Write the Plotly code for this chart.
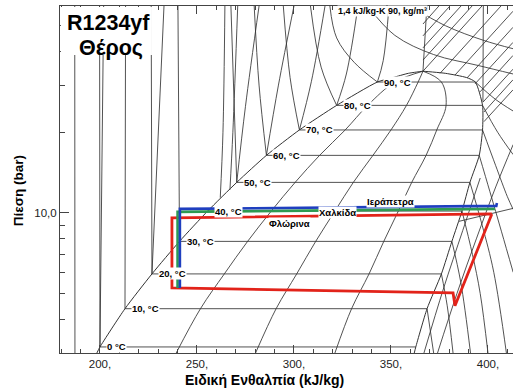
import plotly.graph_objects as go
import math

# ---------------- data ----------------
# saturation dome (T in C, P in bar, h in kJ/kg)
T_SAT = [-1.2, 0, 10, 20, 30, 40, 50, 60, 70, 80, 90, 92, 94, 94.7]
P_SAT = [3.0, 3.16, 4.39, 5.92, 7.83, 10.16, 13.0, 16.4, 20.4, 25.2, 30.8, 32.0, 33.2, 33.8]
H_LIQ = [198.4, 200.0, 212.9, 226.8, 241.0, 255.5, 270.5, 285.8, 302.8, 322.0, 343.0, 351.0, 359.0, 366.5]
H_VAP = [362.0, 362.8, 368.6, 376.0, 381.4, 386.6, 390.7, 395.5, 397.2, 397.2, 393.5, 389.0, 378.0, 366.5]

# labelled isotherms inside the dome
ISO_T = [0, 10, 20, 30, 40, 50, 60, 70, 80, 90]
ISO_LABELS = ["0 °C", "10, °C", "20, °C", "30, °C", "40, °C", "50, °C", "60, °C", "70, °C", "80, °C", "90, °C"]

# liquid-region isotherms: (h, P) polylines
LIQ_ISO = [
    [(187.1, 3.0), (187.0, 59.2)],
    [(200.0, 3.16), (199.8, 59.2)],
    [(212.9, 4.39), (213.2, 59.2)],
    [(226.8, 5.92), (226.4, 59.2)],
    [(241.0, 7.83), (240.2, 59.2)],
    [(270.5, 13.0), (267.5, 59.2)],
    [(285.8, 16.4), (282.0, 30.0), (279.5, 59.2)],
    [(302.8, 20.4), (298.0, 32.0), (294.5, 59.2)],
    [(322.0, 25.2), (314.0, 35.0), (308.5, 59.2)],
    [(343.0, 30.8), (331.0, 36.5), (322.0, 45.0), (318.5, 59.2)],
]
# steeper right-leaning lines of the liquid region
LIQ_ISEN = [
    [(200.0, 3.16), (201.9, 59.2)],
    [(226.8, 5.92), (233.0, 59.2)],
    [(262.0, 11.4), (263.4, 20.0), (264.4, 59.2)],
    [(267.0, 12.2), (268.5, 20.0), (271.0, 59.2)],
    [(270.5, 13.0), (275.0, 25.0), (282.0, 59.2)],
    [(285.8, 16.4), (292.0, 30.0), (300.0, 59.2)],
    [(302.8, 20.4), (309.0, 31.0), (316.0, 59.2)],
    [(322.0, 25.2), (327.0, 33.0), (333.0, 59.2)],
    [(343.0, 30.8), (346.0, 37.0), (349.0, 59.2)],
]

# constant quality lines (h at the saturation pressures Q_P)
Q_LINES = [
    [239.3, 251.8, 264.1, 276.1, 288.3, 300.6, 313.2, 326.4, 338.0, 352.0, 366.5],
    [280.2, 290.8, 301.4, 311.2, 321.1, 330.6, 340.7, 350.0, 358.0, 364.0, 366.5],
    [321.1, 329.7, 338.7, 346.3, 353.8, 360.7, 368.1, 373.6, 378.4, 376.0, 366.5],
]
Q_P = [3.0, 4.39, 5.92, 7.83, 10.16, 13.0, 16.4, 20.4, 25.2, 30.8, 33.8]

# superheated isotherms
VAP_ISO = [
    [(368.6, 4.39), (372.0, 3.0)],
    [(376.0, 5.92), (379.0, 4.5), (382.0, 3.0)],
    [(381.4, 7.83), (386.0, 5.5), (391.0, 3.0)],
    [(386.6, 10.16), (392.0, 7.0), (396.0, 5.0), (400.0, 3.0)],
    [(390.7, 13.0), (397.0, 9.0), (403.0, 6.0), (409.5, 3.0)],
    [(395.5, 16.4), (401.0, 12.0), (407.0, 8.5), (413.0, 6.0)],
    [(397.2, 20.4), (404.0, 15.0), (410.0, 11.5), (413.0, 10.3)],
    [(397.2, 25.2), (405.0, 20.0), (413.0, 16.5)],
    [(393.5, 30.8), (404.0, 26.5), (413.0, 24.0)],
]
# supercritical isotherms
SUP_ISO = [
    [(338.0, 59.2), (352.0, 46.0), (372.0, 39.0), (395.0, 35.5), (413.0, 33.0)],
    [(360.0, 59.2), (378.0, 50.0), (398.0, 44.0), (413.0, 41.0)],
]
# vapour isentropes
VAP_ISEN = [
    [(366.5, 33.8), (368.5, 59.2)],
    [(397.4, 26.0), (397.6, 59.2)],
    [(367.0, 3.0), (377.0, 5.2), (387.0, 8.6), (396.0, 13.5)],
    [(374.0, 3.0), (384.0, 5.0), (394.0, 8.0), (404.0, 12.5), (413.0, 18.0)],
]
# vapour isochores
VAP_RHO = [
    [(366.5, 37.2), (391.8, 59.2)],
    [(366.5, 41.3), (386.1, 59.2)],
    [(366.5, 45.8), (380.4, 59.2)],
    [(366.5, 50.7), (374.7, 59.2)],
    [(366.5, 33.8), (396.9, 59.2)],
    [(375.3, 33.2), (406.7, 59.2)],
    [(383.0, 32.7), (412.9, 56.6)],
    [(389.2, 31.9), (412.9, 49.3)],
    [(393.3, 30.3), (412.9, 43.3)],
    [(395.9, 28.3), (412.9, 38.7)],
    [(397.4, 25.9), (412.9, 34.4)],
    [(397.9, 23.8), (412.9, 31.4)],
    [(397.9, 21.9), (412.9, 28.8)],
    [(385.0, 9.3), (413.0, 10.4)],
]

# refrigeration cycles
RED_H = [402.0, 237.1, 237.1, 382.0, 383.0, 402.0]
RED_P = [9.91, 9.58, 5.25, 5.03, 4.50, 9.91]
GREEN_H = [403.6, 240.0, 240.0]
GREEN_P = [10.35, 10.09, 5.25]
BLUE_H = [404.6, 404.3, 241.2, 241.2]
BLUE_P = [10.90, 10.62, 10.35, 5.25]

X_RANGE = [179.4, 412.9]
P_RANGE = [3.0, 59.2]
X_TICKS = [200, 250, 300, 350, 400]
X_TICKTEXT = ["200,", "250,", "300,", "350,", "400,"]
Y_MINOR = [3, 4, 5, 6, 7, 8, 9, 20, 30, 40, 50]

# ---------------- figure ----------------
fig = go.Figure()
LC = "#333333"
LW = 0.85


def add_polylines(lines, width=LW, color=LC, shape="linear"):
    xs, ys = [], []
    for ln in lines:
        for h, p in ln:
            xs.append(h)
            ys.append(p)
        xs.append(None)
        ys.append(None)
    fig.add_trace(go.Scatter(x=xs, y=ys, mode="lines", line=dict(color=color, width=width, shape=shape),
                             hoverinfo="skip", showlegend=False))


# dome
fig.add_trace(go.Scatter(x=H_LIQ + H_VAP[::-1], y=P_SAT + P_SAT[::-1], mode="lines",
                         line=dict(color=LC, width=1.0, shape="spline", smoothing=0.6),
                         hoverinfo="skip", showlegend=False))
# isotherms in dome
dome_lines = []
for t in ISO_T:
    i = T_SAT.index(t)
    dome_lines.append([(H_LIQ[i], P_SAT[i]), (H_VAP[i], P_SAT[i])])
add_polylines(dome_lines)
add_polylines(LIQ_ISO, shape="spline")
add_polylines(LIQ_ISEN, shape="spline")
add_polylines([list(zip(q, Q_P)) for q in Q_LINES], shape="spline")
add_polylines(VAP_ISO, shape="spline")
add_polylines(SUP_ISO, shape="spline")
add_polylines(VAP_ISEN, shape="spline")
add_polylines(VAP_RHO)

# cycles
fig.add_trace(go.Scatter(x=RED_H, y=RED_P, mode="lines", line=dict(color="#e2231a", width=2.8),
                         hoverinfo="skip", showlegend=False))
fig.add_trace(go.Scatter(x=GREEN_H, y=GREEN_P, mode="lines", line=dict(color="#2e9a52", width=2.6),
                         hoverinfo="skip", showlegend=False))
fig.add_trace(go.Scatter(x=BLUE_H, y=BLUE_P, mode="lines", line=dict(color="#1f3fbf", width=2.6),
                         hoverinfo="skip", showlegend=False))

FONT = "Liberation Sans, Arial, sans-serif"
annotations = []
for t, lab in zip(ISO_T, ISO_LABELS):
    i = T_SAT.index(t)
    annotations.append(dict(x=H_LIQ[i], y=math.log10(P_SAT[i]), xref="x", yref="y", text="<b>%s</b>" % lab,
                            showarrow=False, xanchor="left", yanchor="middle", xshift=6,
                            bgcolor="white", borderpad=0, font=dict(family=FONT, size=9.5, color="#000")))

for txt, h, p in [("Ιεράπετρα", 349.5, 10.99), ("Χαλκίδα", 322.2, 10.05), ("Φλώρινα", 297.9, 9.10)]:
    annotations.append(dict(x=h, y=math.log10(p), xref="x", yref="y", text="<b>%s</b>" % txt, showarrow=False,
                            xanchor="center", yanchor="middle", bgcolor="white", borderpad=0,
                            font=dict(family=FONT, size=9.5, color="#000")))
annotations.append(dict(x=358.5, y=math.log10(56.8), xref="x", yref="y", text="<b>90, kg/m³</b>",
                        showarrow=False, xanchor="center", yanchor="middle", bgcolor="white", borderpad=0,
                        font=dict(family=FONT, size=9, color="#000")))
annotations.append(dict(x=335.0, y=math.log10(56.8), xref="x", yref="y", text="<b>1,4 kJ/kg-K</b>",
                        showarrow=False, xanchor="center", yanchor="middle", bgcolor="white", borderpad=0,
                        font=dict(family=FONT, size=9, color="#000")))

annotations.append(dict(x=0.106, y=0.952, xref="paper", yref="paper", text="<b>R1234yf</b>", showarrow=False,
                        xanchor="center", yanchor="middle", font=dict(family=FONT, size=21.5, color="#000")))
annotations.append(dict(x=0.113, y=0.880, xref="paper", yref="paper", text="<b>Θέρος</b>", showarrow=False,
                        xanchor="center", yanchor="middle", font=dict(family=FONT, size=21.5, color="#000")))
annotations.append(dict(x=0.452, y=-0.078, xref="paper", yref="paper", text="<b>Ειδική Ενθαλπία (kJ/kg)</b>",
                        showarrow=False, xanchor="center", yanchor="middle",
                        font=dict(family=FONT, size=14, color="#000")))
annotations.append(dict(x=-0.090, y=0.467, xref="paper", yref="paper", text="<b>Πίεση (bar)</b>",
                        showarrow=False, xanchor="center", yanchor="middle", textangle=-90,
                        font=dict(family=FONT, size=13.5, color="#000")))

shapes = [dict(type="rect", xref="paper", yref="paper", x0=0.002, x1=0.203, y0=0.859, y1=0.997,
               fillcolor="white", line=dict(width=0), layer="above")]
# short mirrored ticks at the right edge
for v in Y_MINOR + [10]:
    shapes.append(dict(type="line", xref="paper", yref="y", x0=0.99, x1=1.0, y0=math.log10(v), y1=math.log10(v),
                       line=dict(color="#444", width=1)))

fig.update_layout(
    width=513, height=390,
    margin=dict(l=60, r=0, t=6, b=37),
    paper_bgcolor="white", plot_bgcolor="white",
    showlegend=False,
    annotations=annotations,
    shapes=shapes,
    xaxis=dict(range=X_RANGE, showgrid=False, zeroline=False, showline=True, linecolor="#444", linewidth=1,
               mirror="ticks", ticks="inside", ticklen=8, tickcolor="#444", tickvals=X_TICKS,
               ticktext=X_TICKTEXT, tickfont=dict(family=FONT, size=11.5, color="#222"),
               minor=dict(ticks="inside", dtick=10, tick0=0, ticklen=4, tickcolor="#444", showgrid=False)),
    yaxis=dict(type="log", range=[math.log10(P_RANGE[0]), math.log10(P_RANGE[1])], showgrid=False,
               zeroline=False, showline=True, linecolor="#444", linewidth=1, ticks="inside", ticklen=9,
               tickcolor="#444", tickvals=[10], ticktext=["10,0"], tickfont=dict(family=FONT, size=11.5, color="#222"),
               minor=dict(ticks="inside", tickmode="array", tickvals=Y_MINOR, ticklen=5, tickcolor="#444",
                          showgrid=False)),
)

fig.write_html("out.html")
